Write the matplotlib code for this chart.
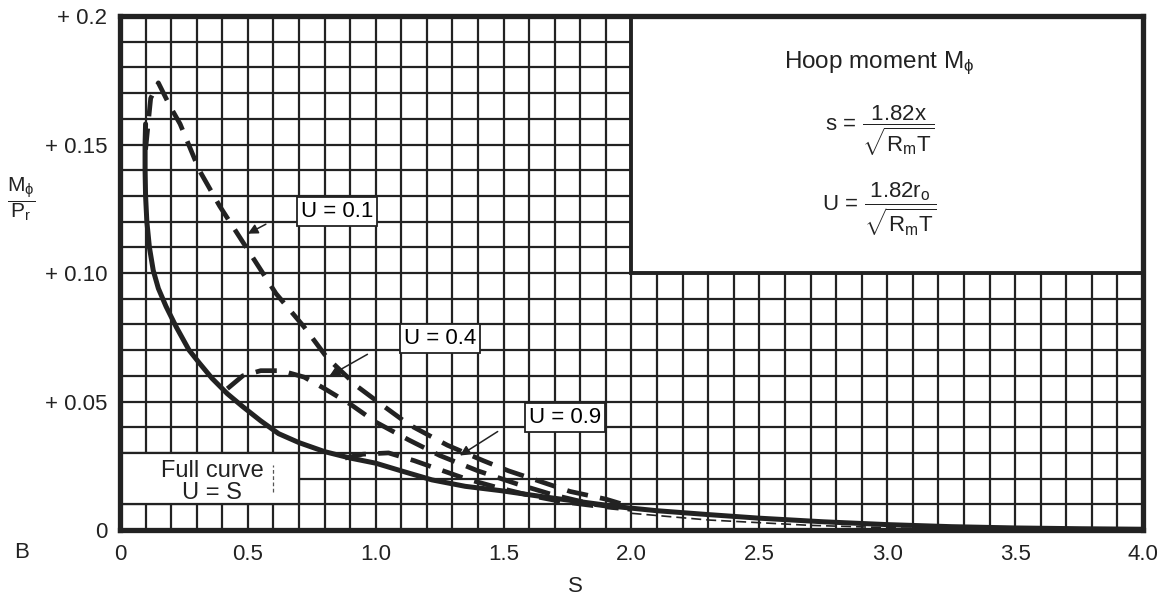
import matplotlib
matplotlib.use("Agg")
import matplotlib.pyplot as plt
from matplotlib.patches import Rectangle
import numpy as np

plt.rcParams['font.family'] = ['Liberation Sans', 'DejaVu Sans']
plt.rcParams['mathtext.fontset'] = 'custom'
plt.rcParams['mathtext.rm'] = 'Liberation Sans'
plt.rcParams['mathtext.it'] = 'Liberation Sans'
plt.rcParams['mathtext.bf'] = 'Liberation Sans:bold'

# ---- data ----
full_x = [0.100, 0.098, 0.098, 0.100, 0.105, 0.115, 0.130, 0.150, 0.180, 0.220, 0.270, 0.310,
          0.360, 0.420, 0.480, 0.550, 0.620, 0.700, 0.800, 0.900, 1.000, 1.100, 1.220, 1.350,
          1.490, 1.650, 1.800, 1.950, 2.100, 2.300, 2.500, 2.750, 3.000, 3.250, 3.500, 3.750, 4.000]
full_y = [0.158, 0.150, 0.140, 0.130, 0.120, 0.110, 0.101, 0.094, 0.087, 0.079, 0.070, 0.065,
          0.059, 0.053, 0.048, 0.0425, 0.0375, 0.034, 0.0305, 0.028, 0.026, 0.023, 0.0195, 0.017,
          0.0153, 0.013, 0.011, 0.009, 0.0075, 0.006, 0.0046, 0.0032, 0.0021, 0.0013, 0.0008,
          0.0005, 0.0003]

u01_x = [0.10, 0.12, 0.15, 0.195, 0.235, 0.31, 0.39, 0.50, 0.61, 0.72, 0.81, 0.93, 1.02,
         1.13, 1.28, 1.42, 1.52, 1.64, 1.76, 1.90, 2.00]
u01_y = [0.148, 0.168, 0.174, 0.165, 0.158, 0.140, 0.126, 0.109, 0.092, 0.079, 0.067, 0.0557,
         0.049, 0.041, 0.033, 0.027, 0.023, 0.019, 0.015, 0.012, 0.009]

u04_x = [0.42, 0.48, 0.55, 0.63, 0.72, 0.80, 0.90, 1.00, 1.13, 1.25, 1.40, 1.55, 1.70, 1.85, 2.00]
u04_y = [0.055, 0.060, 0.062, 0.062, 0.0595, 0.055, 0.049, 0.042, 0.035, 0.029, 0.023, 0.018,
         0.0135, 0.010, 0.008]

u09_x = [0.88, 0.95, 1.05, 1.15, 1.25, 1.35, 1.47, 1.60, 1.73, 1.85, 1.95]
u09_y = [0.028, 0.0295, 0.030, 0.027, 0.0235, 0.020, 0.0167, 0.0135, 0.011, 0.0095, 0.0085]

tail_x = [2.00, 2.30, 2.70, 3.18]
tail_y = [0.0065, 0.0039, 0.0018, 0.0004]

x_ticks = [0, 0.5, 1.0, 1.5, 2.0, 2.5, 3.0, 3.5, 4.0]
x_tick_labels = ['0', '0.5', '1.0', '1.5', '2.0', '2.5', '3.0', '3.5', '4.0']
y_ticks = [0, 0.05, 0.10, 0.15, 0.2]
y_tick_labels = ['0', '+ 0.05', '+ 0.10', '+ 0.15', '+ 0.2']

curve_labels = ['U = 0.1', 'U = 0.4', 'U = 0.9']

INK = '#222222'

# ---- figure ----
fig = plt.figure(figsize=(11.73, 5.98), dpi=100)
ax = fig.add_axes([0.1023, 0.1137, 0.8721, 0.8595])
ax.set_xlim(0, 4.0)
ax.set_ylim(0, 0.2)

# grid
for gx in np.arange(0.1, 4.0, 0.1):
    ax.axvline(gx, color=INK, lw=1.6, zorder=1)
for gy in np.arange(0.01, 0.2, 0.01):
    ax.axhline(gy, color=INK, lw=1.6, zorder=1)

for s in ax.spines.values():
    s.set_linewidth(3.8)
    s.set_color(INK)
ax.tick_params(length=0, labelsize=16, colors=INK)
ax.tick_params(axis='y', pad=9)
ax.tick_params(axis='x', pad=10)
ax.set_xticks(x_ticks)
ax.set_xticklabels(x_tick_labels)
ax.set_yticks(y_ticks)
ax.set_yticklabels(y_tick_labels)

# white boxes
def box(x0, y0, x1, y1, lw=1.6):
    ax.add_patch(Rectangle((x0, y0), x1 - x0, y1 - y0, facecolor='white',
                           edgecolor=INK, lw=lw, zorder=2))

box(2.0, 0.10, 4.0, 0.2, lw=2.8)
box(0.0, 0.01, 0.7, 0.03)

# curves
ax.plot(full_x, full_y, color=INK, lw=3.6, zorder=4, solid_capstyle='round',
        solid_joinstyle='round')
dash = (0, (4.5, 2.6))
for xs, ys in ((u01_x, u01_y), (u04_x, u04_y), (u09_x, u09_y)):
    ax.plot(xs, ys, color=INK, lw=3.4, ls=dash, zorder=4)
ax.plot(tail_x, tail_y, color=INK, lw=1.2, ls=(0, (6, 3)), zorder=4)

# curve labels with leader arrows
lab_box = dict(boxstyle='square,pad=0.18', facecolor='white', edgecolor=INK, lw=1.3)
ax.text(0.848, 0.1239, curve_labels[0], ha='center', va='center', fontsize=16, zorder=5,
        bbox=lab_box)
ax.text(1.25, 0.0747, curve_labels[1], ha='center', va='center', fontsize=16, zorder=5,
        bbox=lab_box)
ax.text(1.74, 0.0436, curve_labels[2], ha='center', va='center', fontsize=16, zorder=5,
        bbox=lab_box)
arrow = dict(arrowstyle='-|>', color=INK, lw=1.1, mutation_scale=15)
ax.annotate('', xy=(0.49, 0.1148), xytext=(0.58, 0.1195), arrowprops=arrow, zorder=5)
ax.annotate('', xy=(0.81, 0.0595), xytext=(0.977, 0.0689), arrowprops=arrow, zorder=5)
ax.annotate('', xy=(1.32, 0.0284), xytext=(1.486, 0.0389), arrowprops=arrow, zorder=5)

# full curve box text
ax.text(0.36, 0.0187, 'Full curve\nU = S', ha='center', va='center', fontsize=17,
        linespacing=0.95, zorder=5, color=INK)
ax.plot([0.60, 0.60], [0.0148, 0.0253], color='#555555', lw=0.9, ls=(0, (3, 2)), zorder=5)

# inset texts
ax.text(2.97, 0.1815, r'Hoop moment M$_\phi$', ha='center', va='center', fontsize=17.5,
        zorder=5, color=INK)
ax.text(2.97, 0.1555, r'$\mathregular{s\,=\,\dfrac{1.82x}{\sqrt{R_mT}}}$', ha='center',
        va='center', fontsize=16, zorder=5, color=INK)
ax.text(2.97, 0.1250, r'$\mathregular{U\,=\,\dfrac{1.82r_o}{\sqrt{R_mT}}}$', ha='center',
        va='center', fontsize=16, zorder=5, color=INK)

# axis labels
fig.text(575 / 1173, 1 - 586 / 598, 'S', ha='center', va='center', fontsize=16, color=INK)
fig.text(21 / 1173, 1 - 199 / 598, r'$\mathregular{\dfrac{M_\phi}{P_r}}$', ha='center',
         va='center', fontsize=15, color=INK)
fig.text(22 / 1173, 1 - 553 / 598, 'B', ha='center', va='center', fontsize=16, color=INK)

fig.savefig('out.png', dpi=100, facecolor='white')
